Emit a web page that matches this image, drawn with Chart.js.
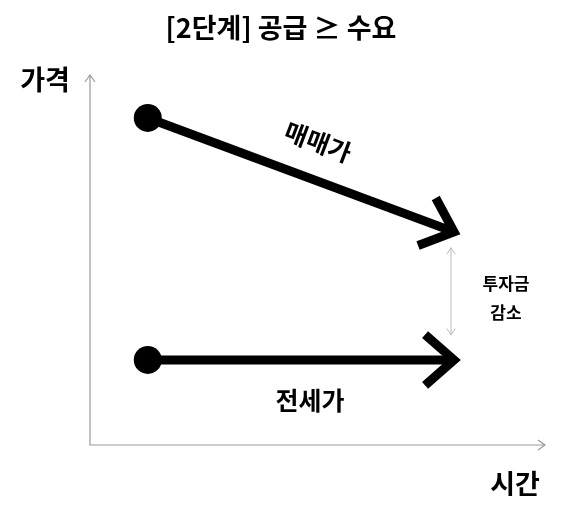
<!DOCTYPE html>
<html><head><meta charset="utf-8">
<script src="https://cdn.jsdelivr.net/npm/chart.js@4/dist/chart.umd.min.js"></script>
<style>html,body{margin:0;background:#fff}#w{width:562px;height:520px}</style>
</head><body><div id="w"><canvas id="c"></canvas></div>
<script>
const titleText = "[2단계] 공급 ≥ 수요";
const yAxisLabel = "가격";
const xAxisLabel = "시간";
const seriesNames = ["매매가", "전세가"];
const saleX = [1.27, 8.0];
const saleY = [8.84, 5.76];
const jeonseX = [1.27, 8.0];
const jeonseY = [2.3, 2.3];
const gapLabel = ["투자금", "감소"];
const F = '"Noto Sans CJK KR", sans-serif';

function arrowHead(ctx, x0, y0, x1, y1) {
  const a = Math.atan2(y1 - y0, x1 - x0), L = 34, s = 0.72;
  ctx.beginPath();
  ctx.moveTo(x1 - L*Math.cos(a - s), y1 - L*Math.sin(a - s));
  ctx.lineTo(x1, y1);
  ctx.lineTo(x1 - L*Math.cos(a + s), y1 - L*Math.sin(a + s));
  ctx.lineWidth = 9; ctx.lineJoin = 'miter'; ctx.lineCap = 'square';
  ctx.strokeStyle = '#000'; ctx.stroke();
}
const deco = {
  id: 'deco',
  afterDatasetsDraw(chart) {
    const {ctx, chartArea: ca, scales: {x, y}} = chart;
    ctx.save();
    // axes
    ctx.strokeStyle = '#999'; ctx.lineWidth = 1.2;
    ctx.beginPath(); ctx.moveTo(ca.left, ca.top); ctx.lineTo(ca.left, ca.bottom); ctx.lineTo(ca.right, ca.bottom); ctx.stroke();
    ctx.beginPath(); ctx.moveTo(ca.left-5, ca.top+7); ctx.lineTo(ca.left, ca.top); ctx.lineTo(ca.left+5, ca.top+7);
    ctx.moveTo(ca.right-7, ca.bottom-5); ctx.lineTo(ca.right, ca.bottom); ctx.lineTo(ca.right-7, ca.bottom+5); ctx.stroke();
    // arrowheads
    arrowHead(ctx, x.getPixelForValue(saleX[0]), y.getPixelForValue(saleY[0]), x.getPixelForValue(saleX[1]), y.getPixelForValue(saleY[1]));
    arrowHead(ctx, x.getPixelForValue(jeonseX[0]), y.getPixelForValue(jeonseY[0]), x.getPixelForValue(jeonseX[1]), y.getPixelForValue(jeonseY[1]));
    // gap arrow
    const gx = x.getPixelForValue(8.0) - 3, gy0 = y.getPixelForValue(saleY[1]) + 16, gy1 = y.getPixelForValue(jeonseY[1]) - 25;
    ctx.strokeStyle = '#bbb'; ctx.lineWidth = 1;
    ctx.beginPath(); ctx.moveTo(gx, gy0); ctx.lineTo(gx, gy1);
    ctx.moveTo(gx-4, gy0+6); ctx.lineTo(gx, gy0); ctx.lineTo(gx+4, gy0+6);
    ctx.moveTo(gx-4, gy1-6); ctx.lineTo(gx, gy1); ctx.lineTo(gx+4, gy1-6); ctx.stroke();
    // texts
    ctx.fillStyle = '#000'; ctx.textAlign = 'center'; ctx.textBaseline = 'middle';
    ctx.font = 'bold 27px ' + F; ctx.fillText(titleText, 281, 28);
    ctx.font = 'bold 27px ' + F; ctx.fillText(yAxisLabel, 45, 80); ctx.fillText(xAxisLabel, 515, 484);
    ctx.font = 'bold 17px ' + F; ctx.fillText(gapLabel[0], 506, 284); ctx.fillText(gapLabel[1], 506, 313);
    ctx.font = 'bold 25px ' + F; ctx.fillText(seriesNames[1], 310, 400);
    ctx.save(); ctx.translate(318, 142); ctx.rotate(0.36); ctx.fillText(seriesNames[0], 0, 0); ctx.restore();
    ctx.restore();
  }
};
new Chart(document.getElementById('c'), {
  type: 'line',
  data: { datasets: [
    { label: seriesNames[0], data: saleX.map((v,i)=>({x:v,y:saleY[i]})), borderColor:'#000', borderWidth:9, pointRadius:[14,0], pointBackgroundColor:'#000', pointBorderWidth:0 },
    { label: seriesNames[1], data: jeonseX.map((v,i)=>({x:v,y:jeonseY[i]})), borderColor:'#000', borderWidth:9, pointRadius:[14,0], pointBackgroundColor:'#000', pointBorderWidth:0 }
  ]},
  options: {
    responsive:true, maintainAspectRatio:false, animation:false,
    layout:{padding:{left:90,right:17,top:75,bottom:75}},
    plugins:{legend:{display:false},tooltip:{enabled:false}},
    scales:{
      x:{type:'linear',min:0,max:10,display:false},
      y:{type:'linear',min:0,max:10,display:false}
    }
  },
  plugins:[deco]
});
</script></body></html>
